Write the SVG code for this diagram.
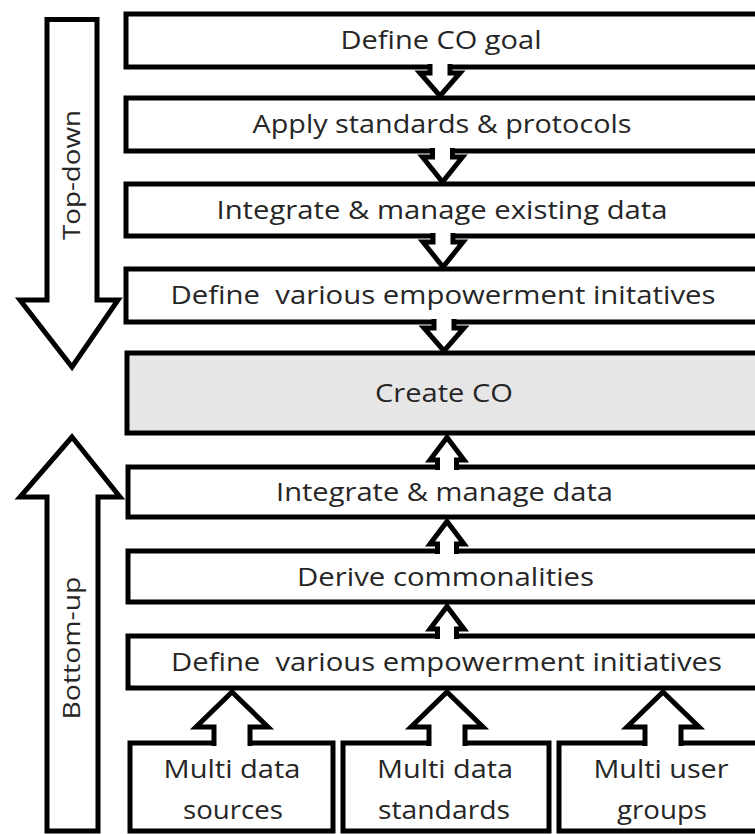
<svg xmlns="http://www.w3.org/2000/svg" width="755" height="834" viewBox="0 0 755 834">
  <style>
    .box { fill: #ffffff; stroke: #000000; stroke-width: 5; }
    .hl { fill: #e6e6e6; }
    .arr { fill: #ffffff; stroke: #000000; stroke-width: 5; stroke-linejoin: miter; }
    .t { font-family: "Open Sans", "Liberation Sans", sans-serif; font-size: 26px; fill: #262626; text-anchor: middle; white-space: pre; }
    .v { font-family: "Open Sans", "Liberation Sans", sans-serif; font-size: 24px; fill: #262626; text-anchor: middle; }
  </style>
  <rect width="755" height="834" fill="#ffffff"/>

  <g id="topdown">
    <polygon class="arr" points="47,19.5 97,19.5 97,300 118,300 72,367 20,300 47,300"/>
    <text class="v" transform="translate(80,175) rotate(-90)" textLength="130" lengthAdjust="spacingAndGlyphs">Top-down</text>
  </g>
  <g id="bottomup">
    <polygon class="arr" points="72,437 120,497 98,497 98,831 47,831 47,497 20,497"/>
    <text class="v" transform="translate(80,648) rotate(-90)" textLength="143" lengthAdjust="spacingAndGlyphs">Bottom-up</text>
  </g>

  <g id="n1"><rect class="box" x="126" y="14" width="660" height="53"/>
    <text class="t" x="441" y="49" textLength="201" lengthAdjust="spacingAndGlyphs">Define CO goal</text></g>
  <g id="n2"><rect class="box" x="126" y="98" width="660" height="53"/>
    <text class="t" x="442" y="133" textLength="379" lengthAdjust="spacingAndGlyphs">Apply standards &amp; protocols</text></g>
  <g id="n3"><rect class="box" x="126" y="184" width="660" height="52"/>
    <text class="t" x="442" y="218.5" textLength="451" lengthAdjust="spacingAndGlyphs">Integrate &amp; manage existing data</text></g>
  <g id="n4"><rect class="box" x="126" y="269" width="660" height="53"/>
    <text class="t" x="443" y="304" textLength="545" lengthAdjust="spacingAndGlyphs">Define  various empowerment initatives</text></g>
  <g id="n5"><rect class="box hl" x="127" y="353" width="660" height="80"/>
    <text class="t" x="444" y="402" textLength="138" lengthAdjust="spacingAndGlyphs">Create CO</text></g>
  <g id="n6"><rect class="box" x="128" y="467" width="660" height="50"/>
    <text class="t" x="444.5" y="501" textLength="337" lengthAdjust="spacingAndGlyphs">Integrate &amp; manage data</text></g>
  <g id="n7"><rect class="box" x="128" y="551" width="660" height="51"/>
    <text class="t" x="445.5" y="585.5" textLength="297" lengthAdjust="spacingAndGlyphs">Derive commonalities</text></g>
  <g id="n8"><rect class="box" x="128" y="636" width="660" height="52"/>
    <text class="t" x="446.5" y="671" textLength="551" lengthAdjust="spacingAndGlyphs">Define  various empowerment initiatives</text></g>

  <g id="s1"><rect class="box" x="130" y="743" width="203" height="88"/>
    <text class="t" x="232" y="778" textLength="137" lengthAdjust="spacingAndGlyphs">Multi data</text>
    <text class="t" x="233" y="819" textLength="100" lengthAdjust="spacingAndGlyphs">sources</text></g>
  <g id="s2"><rect class="box" x="343" y="743" width="206" height="88"/>
    <text class="t" x="445" y="778" textLength="136" lengthAdjust="spacingAndGlyphs">Multi data</text>
    <text class="t" x="444" y="819" textLength="132" lengthAdjust="spacingAndGlyphs">standards</text></g>
  <g id="s3"><rect class="box" x="559" y="743" width="210" height="88"/>
    <text class="t" x="661" y="778" textLength="135" lengthAdjust="spacingAndGlyphs">Multi user</text>
    <text class="t" x="662" y="819" textLength="90" lengthAdjust="spacingAndGlyphs">groups</text></g>

  <g id="connectors">
    <path class="arr" d="M430,64 L430,73 L420,73 L440,96 L460,73 L450,73 L450,64"/>
    <path class="arr" d="M432.5,148 L432.5,157 L422.5,157 L442.5,182 L462.5,157 L452.5,157 L452.5,148"/>
    <path class="arr" d="M433,233 L433,242 L423,242 L443,267 L463,242 L453,242 L453,233"/>
    <path class="arr" d="M434,319 L434,328 L424,328 L444,351 L464,328 L454,328 L454,319"/>
    <path class="arr" d="M437.5,470 L437.5,460 L430,460 L447,437.5 L464,460 L456.5,460 L456.5,470"/>
    <path class="arr" d="M437.5,554 L437.5,544 L430,544 L447,521.5 L464,544 L456.5,544 L456.5,554"/>
    <path class="arr" d="M437.5,639 L437.5,629 L430,629 L447,606.5 L464,629 L456.5,629 L456.5,639"/>
    <path class="arr" d="M214,746 L214,727 L196,727 L232,692 L268,727 L250,727 L250,746"/>
    <path class="arr" d="M429,746 L429,727 L411,727 L447,692 L483,727 L465,727 L465,746"/>
    <path class="arr" d="M645,746 L645,727 L627,727 L663,692 L699,727 L681,727 L681,746"/>
  </g>
</svg>
